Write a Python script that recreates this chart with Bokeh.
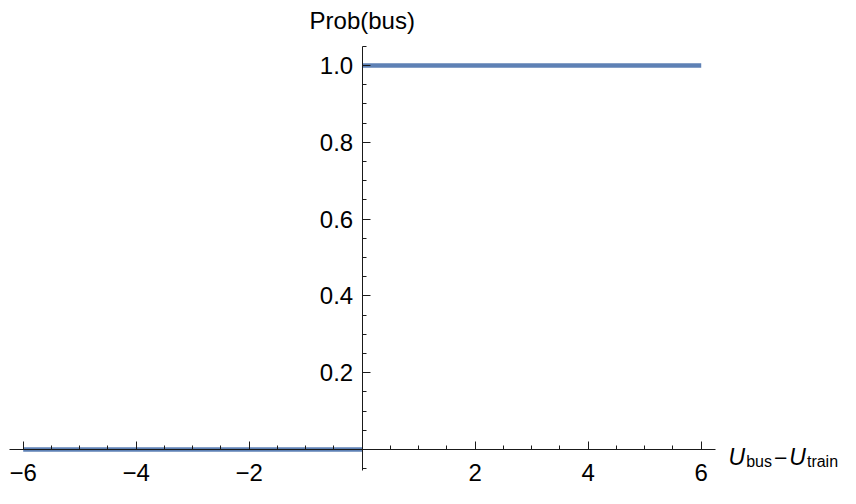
from bokeh.plotting import figure
from bokeh.models import LinearAxis, FixedTicker, Range1d, Label
from bokeh.embed import file_html
from bokeh.resources import INLINE

# ---- data ----
u_diff_low = [-6, 0]
prob_low = [0, 0]
u_diff_high = [0, 6]
prob_high = [1, 1]

x_ticks = [-6, -4, -2, 2, 4, 6]
x_tick_labels = ["\u22126", "\u22124", "\u22122", "2", "4", "6"]
x_minor_ticks = [-6, -5.5, -5, -4.5, -4, -3.5, -3, -2.5, -2, -1.5, -1, -0.5,
                 0.5, 1, 1.5, 2, 2.5, 3, 3.5, 4, 4.5, 5, 5.5, 6]
y_ticks = [0.2, 0.4, 0.6, 0.8, 1.0]
y_tick_labels = ["0.2", "0.4", "0.6", "0.8", "1.0"]
y_minor_ticks = [-0.05, 0.05, 0.1, 0.15, 0.2, 0.25, 0.3, 0.35, 0.4, 0.45, 0.5,
                 0.55, 0.6, 0.65, 0.7, 0.75, 0.8, 0.85, 0.9, 0.95, 1.0, 1.05]

FONT = "Liberation Sans"
LINE_COLOR = "#5E81B5"
AXIS_COLOR = "#1a1a1a"

p = figure(
    frame_width=840, frame_height=488, min_border=0,
    x_range=Range1d(-6.402, 8.465), y_range=Range1d(-0.1016, 1.1693),
    x_axis_type=None, y_axis_type=None,
    output_backend="svg", toolbar_location=None,
)
p.outline_line_color = None
p.background_fill_color = "white"
p.border_fill_color = "white"

p.line(u_diff_low, prob_low, line_color=LINE_COLOR, line_width=4.5, line_cap="butt")
p.line(u_diff_high, prob_high, line_color=LINE_COLOR, line_width=4.5, line_cap="butt")

xaxis = LinearAxis(
    fixed_location=0, bounds=(-6.24, 6.25),
    ticker=FixedTicker(ticks=x_ticks, minor_ticks=x_minor_ticks),
    major_label_overrides={t: l for t, l in zip(x_ticks, x_tick_labels)},
)
yaxis = LinearAxis(
    fixed_location=0, bounds=(-0.054, 1.05),
    ticker=FixedTicker(ticks=y_ticks, minor_ticks=y_minor_ticks),
    major_label_overrides={t: l for t, l in zip(y_ticks, y_tick_labels)},
)
for ax in (xaxis, yaxis):
    ax.axis_line_color = AXIS_COLOR
    ax.axis_line_width = 1
    ax.major_tick_line_color = AXIS_COLOR
    ax.minor_tick_line_color = AXIS_COLOR
    ax.major_tick_in = 8
    ax.major_tick_out = 0
    ax.minor_tick_in = 4
    ax.minor_tick_out = 0
    ax.major_label_text_font = FONT
    ax.major_label_text_font_size = "24px"
    ax.major_label_text_color = "black"
xaxis.major_label_standoff = 15
yaxis.major_label_standoff = 9

p.add_layout(xaxis, "below")
p.add_layout(yaxis, "left")

# axis titles
p.add_layout(Label(x=0, y=1.1172, text="Prob(bus)", text_font=FONT,
                   text_font_size="24px", text_align="center",
                   text_baseline="alphabetic", text_color="black"))

pieces = [
    (6.483, -0.0208, "U", "23px", "italic"),
    (6.796, -0.0312, "bus", "16px", "normal"),
    (7.286, -0.0208, "\u2212", "23px", "normal"),
    (7.560, -0.0208, "U", "23px", "italic"),
    (7.871, -0.0312, "train", "16px", "normal"),
]
for x, y, t, fs, st in pieces:
    p.add_layout(Label(x=x, y=y, text=t, text_font=FONT, text_font_size=fs,
                       text_font_style=st, text_align="left",
                       text_baseline="alphabetic", text_color="black"))

open("out.html", "w").write(file_html(p, INLINE))
